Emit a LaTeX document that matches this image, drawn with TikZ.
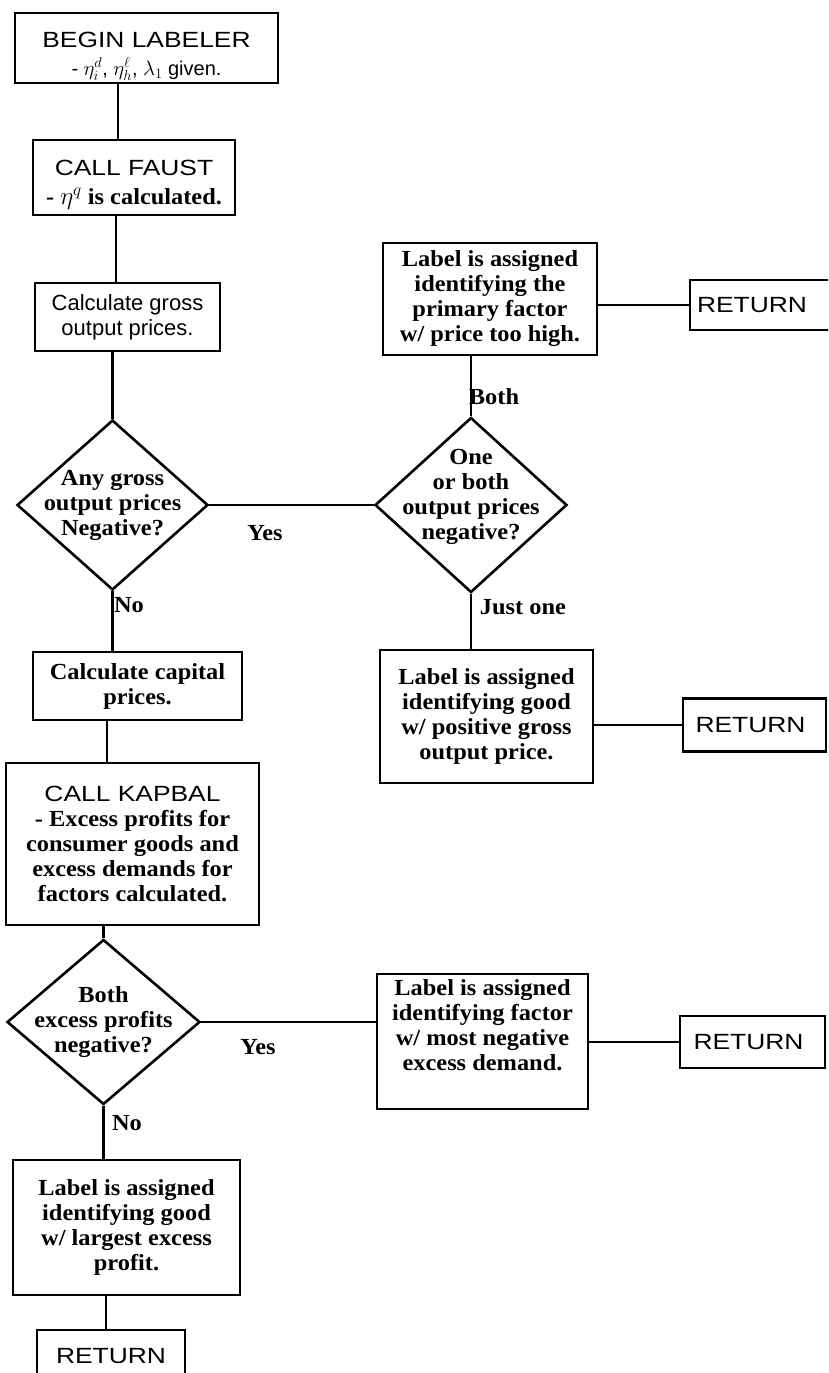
\documentclass[tikz,border=0pt]{standalone}
\usepackage{fontspec}
\setmainfont{Liberation Serif}[FakeStretch=1.06]
\newfontfamily\optfam{Liberation Sans}
\newfontfamily\optcapfam{Liberation Sans}[FakeStretch=1.2]
\usetikzlibrary{shapes.geometric}
\newcommand\bsouv{\fontsize{23}{25}\selectfont\bfseries}
\newcommand\optx{\optfam\mdseries\fontsize{22}{26}\selectfont}
\newcommand\optcaps{\optcapfam\mdseries\fontsize{22}{27}\selectfont}
\begin{document}
\begin{tikzpicture}[x=1pt,y=-1pt,
  box/.style={draw, line width=2.9pt, inner sep=0pt, align=center, font=\bsouv},
  dia/.style={draw, diamond, line width=2.6pt, inner sep=0pt},
  dlab/.style={align=center, font=\bsouv, inner sep=0pt},
  conn/.style={line width=2.5pt},
  lab/.style={font=\bsouv, inner sep=0pt}]
\useasboundingbox (0,0) rectangle (828,1373);
\clip (0,0) rectangle (828,1373);
\coordinate (s1) at (118,0);
\coordinate (s2) at (116,0);
\coordinate (s3) at (107,0);
\coordinate (s4) at (106,0);

% boxes
\node[box, minimum width=263, minimum height=70,
  label={[dlab,yshift=-8pt]center:{{\optcaps BEGIN LABELER}\\[3pt]{\optfam\mdseries\fontsize{20}{22}\selectfont - $\eta^d_i$,\ $\eta^\ell_h$,\ $\lambda_1$ given.}}}] (begin) at (146.5,48) {};
\node[box, minimum width=202, minimum height=75,
  label={[dlab,yshift=-7pt]center:{{\optcaps CALL FAUST}\\[4pt]- $\eta^q$ is calculated.}}] (faust) at (134,177.5) {};
\node[box, minimum width=185, minimum height=68] (gross) at (127.5,317)
  {\optx Calculate gross\\\optx output prices.};
\node[box, minimum width=214, minimum height=112] (primary) at (490,299)
  {Label is assigned\\identifying the\\primary factor\\w/ price too high.};
\node[box, minimum width=146, minimum height=50] (ret1) at (763,305)
  {\optcaps RETURN\hspace*{22pt}};
\node[box, minimum width=213, minimum height=133] (good1) at (486.5,716.5)
  {Label is assigned\\identifying good\\w/ positive gross\\output price.};
\node[box, minimum width=143, minimum height=53] (ret2) at (754.5,725)
  {\optcaps RETURN\hspace*{8pt}};
\node[box, minimum width=209, minimum height=68] (capital) at (137.5,686)
  {Calculate capital\\prices.};
\node[box, minimum width=253, minimum height=162] (kapbal) at (132.5,844)
  {{\optcaps CALL KAPBAL}\\- Excess profits for\\consumer goods and\\excess demands for\\factors calculated.};
\node[box, minimum width=211, minimum height=135] (factor) at (482.5,1041.5)
  {Label is assigned\\identifying factor\\w/ most negative\\excess demand.\\[8pt]};
\node[box, minimum width=145, minimum height=52] (ret3) at (752.5,1042)
  {\optcaps RETURN\hspace*{8pt}};
\node[box, minimum width=227, minimum height=135] (largest) at (126.5,1227.5)
  {Label is assigned\\identifying good\\w/ largest excess\\profit.};
\node[box, minimum width=148, minimum height=52] (ret4) at (111,1356)
  {\optcaps RETURN};

% decisions
\node[dia, minimum width=191, minimum height=170,
  label={[dlab]center:{Any gross\\output prices\\Negative?}}] (d1) at (112.5,505) {};
\node[dia, minimum width=192, minimum height=175,
  label={[dlab,yshift=8pt]center:{One\\or both\\output prices\\negative?}}] (d2) at (471,505) {};
\node[dia, minimum width=193, minimum height=165,
  label={[dlab]center:{Both\\excess profits\\negative?}}] (d3) at (103.5,1022) {};

% connectors
\draw[conn] (begin.south -| s1) -- (faust.north -| s1);
\draw[conn] (faust.south -| s2) -- (gross.north -| s2);
\draw[conn] (gross.south -| d1.north) -- (d1.north);
\draw[conn] (d1.east) -- (d2.west);
\draw[conn] (d2.north) -- (d2.north |- primary.south);
\draw[conn] (primary.east |- ret1.west) -- (ret1.west);
\draw[conn] (d2.south) -- (d2.south |- good1.north);
\draw[conn] (good1.east |- ret2.west) -- (ret2.west);
\draw[conn] (d1.south) -- (d1.south |- capital.north);
\draw[conn] (capital.south -| s3) -- (kapbal.north -| s3);
\draw[conn] (kapbal.south -| d3.north) -- (d3.north);
\draw[conn] (d3.east) -- (d3.east -| factor.west);
\draw[conn] (factor.east |- ret3.west) -- (ret3.west);
\draw[conn] (d3.south) -- (d3.south |- largest.north);
\draw[conn] (largest.south -| s4) -- (ret4.north -| s4);

% branch labels
\node[lab] (yes1) at (265,533) {Yes};
\node[lab] (no1) at (129,605) {No};
\node[lab] (both) at (494,397) {Both};
\node[lab] (justone) at (523,607) {Just one};
\node[lab] (yes2) at (258,1047) {Yes};
\node[lab] (no2) at (127,1123) {No};
\end{tikzpicture}
\end{document}
